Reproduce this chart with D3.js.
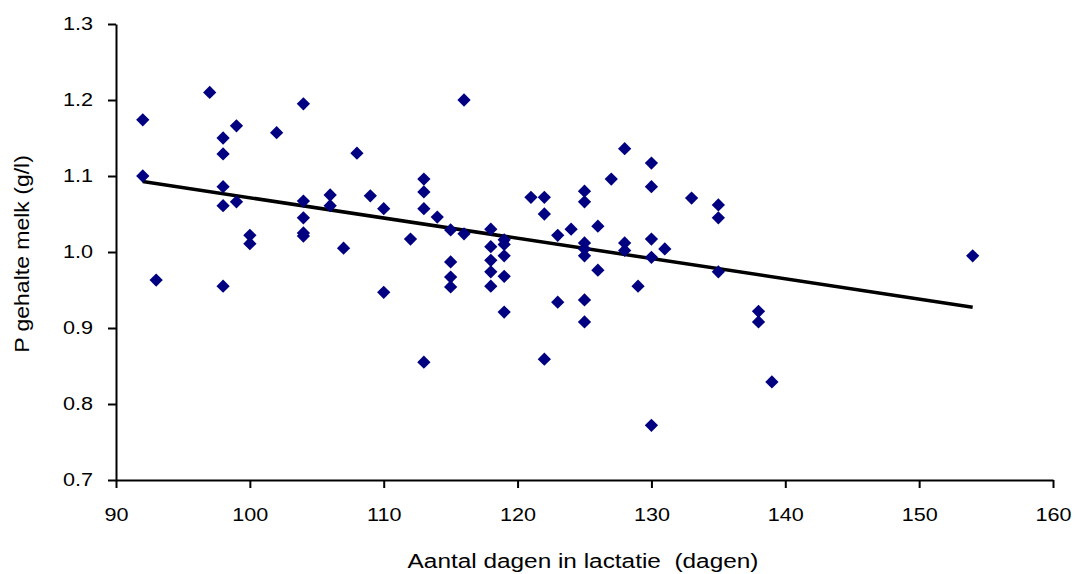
<!DOCTYPE html>
<html>
<head>
<meta charset="utf-8">
<script src="https://cdn.jsdelivr.net/npm/d3@7"></script>
<style>
  html, body { margin: 0; padding: 0; background: #fff; }
  svg { display: block; }
  text { font-family: "Liberation Sans", Arial, sans-serif; fill: #000; }
</style>
</head>
<body>
<svg id="chart" width="1075" height="574"></svg>
<script>
// Days in lactation per cow
const days = [
  92, 92, 93, 97, 98, 98, 98, 98, 98, 99, 99, 100, 100, 102,
  104, 104, 104, 104, 104, 106, 106, 107, 108, 109, 110, 110,
  112, 113, 113, 113, 113, 114, 115, 115, 115, 115, 116, 116,
  118, 118, 118, 118, 118, 119, 119, 119, 119, 119, 121, 122,
  122, 122, 123, 123, 124, 125, 125, 125, 125, 125, 125, 125,
  126, 126, 127, 128, 128, 128, 129, 130, 130, 130, 130, 130,
  131, 133, 135, 135, 135, 138, 138, 139, 154
];
// P content of milk (g/l) for the same cows
const pContent = [
  1.174, 1.100, 0.963, 1.210, 1.150, 1.129, 1.086, 1.061, 0.955, 1.166, 1.066, 1.022, 1.011, 1.157,
  1.195, 1.067, 1.045, 1.025, 1.021, 1.075, 1.061, 1.005, 1.130, 1.074, 1.057, 0.947,
  1.017, 1.096, 1.079, 1.057, 0.855, 1.046, 1.029, 0.987, 0.967, 0.954, 1.024, 1.200,
  1.030, 1.007, 0.989, 0.974, 0.955, 1.016, 1.010, 0.995, 0.968, 0.921, 1.072, 1.072,
  1.050, 0.859, 1.022, 0.934, 1.030, 1.080, 1.066, 1.012, 1.004, 0.995, 0.937, 0.908,
  1.034, 0.976, 1.096, 1.136, 1.012, 1.002, 0.955, 1.117, 1.086, 1.017, 0.993, 0.772,
  1.004, 1.071, 1.062, 1.045, 0.974, 0.922, 0.908, 0.829, 0.995
];

const xTicks = [90, 100, 110, 120, 130, 140, 150, 160];
const yTicks = [0.7, 0.8, 0.9, 1.0, 1.1, 1.2, 1.3];
const xTitle = "Aantal dagen in lactatie  (dagen)";
const yTitle = "P gehalte melk (g/l)";

const svg = d3.select("#chart");

const x = d3.scaleLinear().domain([90, 160]).range([116, 1053]);
const y = d3.scaleLinear().domain([0.7, 1.3]).range([480, 24]);

const points = days.map((d, i) => ({ x: d, y: pContent[i] }));

// Least-squares linear trend
const mx = d3.mean(points, p => p.x);
const my = d3.mean(points, p => p.y);
const sxy = d3.sum(points, p => (p.x - mx) * (p.y - my));
const sxx = d3.sum(points, p => (p.x - mx) * (p.x - mx));
const slope = sxy / sxx;
const intercept = my - slope * mx;
const [xMin, xMax] = d3.extent(days);

// Axes
const xAxis = svg.append("g")
  .attr("transform", "translate(0,480)")
  .call(d3.axisBottom(x).tickValues(xTicks).tickFormat(d3.format("d"))
    .tickSizeInner(8).tickSizeOuter(0).tickPadding(20));
const yAxis = svg.append("g")
  .attr("transform", "translate(116,0)")
  .call(d3.axisLeft(y).tickValues(yTicks).tickFormat(d3.format(".1f"))
    .tickSizeInner(8).tickSizeOuter(0).tickPadding(14));

[xAxis, yAxis].forEach(g => {
  g.select(".domain").attr("stroke", "#000").attr("stroke-width", 2);
  g.selectAll(".tick line").attr("stroke", "#000").attr("stroke-width", 2);
  g.selectAll(".tick text").style("font-size", "18px").attr("fill", "#000");
});
// Wider glyphs for tick labels
xAxis.selectAll(".tick text").attr("transform", "scale(1.2,1)");
yAxis.selectAll(".tick text")
  .attr("x", -23 / 1.2)
  .attr("transform", "scale(1.2,1)");

// Trend line
svg.append("line")
  .attr("x1", x(xMin)).attr("y1", y(intercept + slope * xMin))
  .attr("x2", x(xMax)).attr("y2", y(intercept + slope * xMax))
  .attr("stroke", "#000").attr("stroke-width", 3.5);

// Diamond markers
const diamond = d3.symbol().type(d3.symbolSquare).size(88);
svg.append("g").selectAll("path")
  .data(points)
  .join("path")
  .attr("d", diamond)
  .attr("transform", p => `translate(${x(p.x)},${y(p.y)}) rotate(45)`)
  .attr("fill", "#000080");

// Axis titles
svg.append("text")
  .attr("transform", "translate(583,568) scale(1.25,1)")
  .attr("text-anchor", "middle")
  .style("font-size", "19.5px")
  .style("white-space", "pre")
  .text(xTitle);

svg.append("text")
  .attr("transform", "translate(28.5,254) rotate(-90) scale(1.15,1)")
  .attr("text-anchor", "middle")
  .style("font-size", "20px")
  .text(yTitle);
</script>
</body>
</html>
